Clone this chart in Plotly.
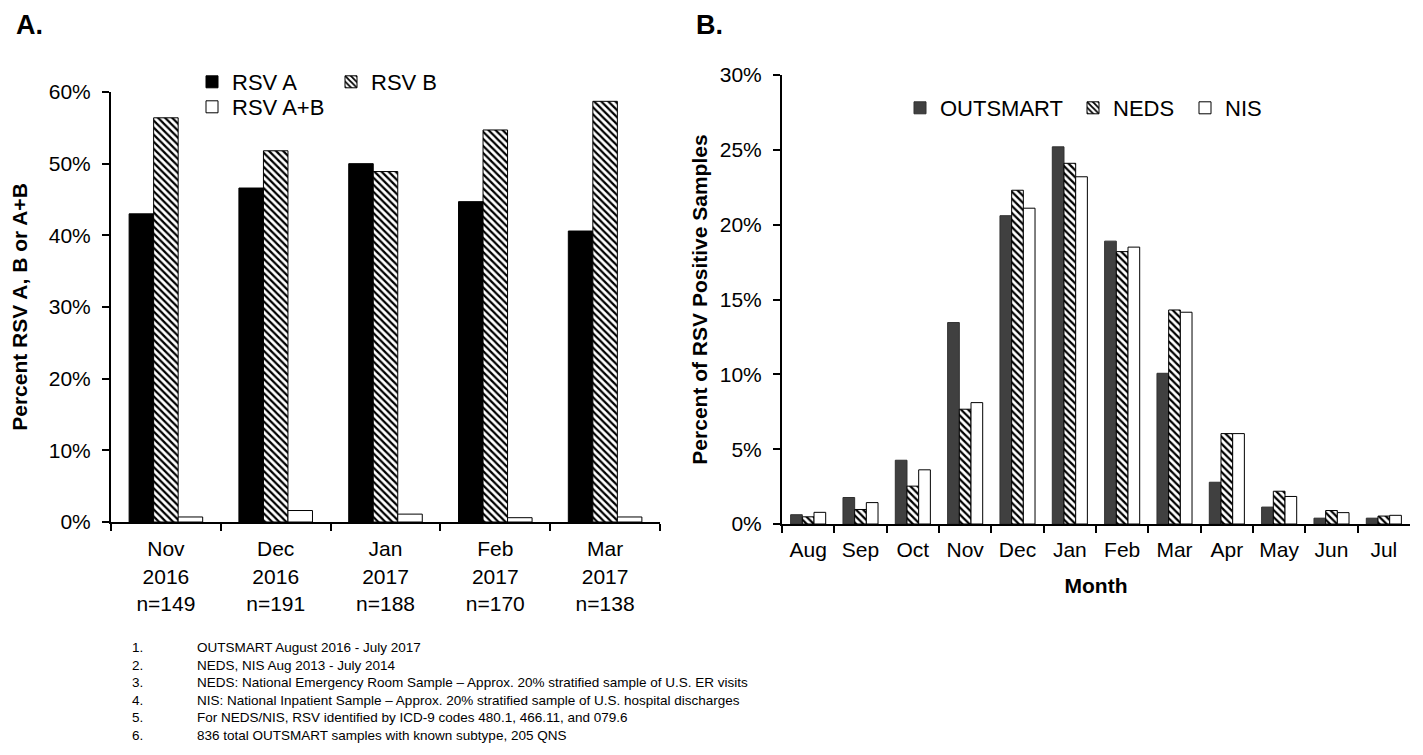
import plotly.graph_objects as go

# ---------------- data ----------------
a_months = ["Nov", "Dec", "Jan", "Feb", "Mar"]
a_years = ["2016", "2016", "2017", "2017", "2017"]
a_counts = [149, 191, 188, 170, 138]
rsv_a = [43.0, 46.6, 50.0, 44.7, 40.6]
rsv_b = [56.4, 51.8, 48.9, 54.7, 58.7]
rsv_ab = [0.7, 1.6, 1.1, 0.6, 0.7]

b_months = ["Aug", "Sep", "Oct", "Nov", "Dec", "Jan", "Feb", "Mar", "Apr", "May", "Jun", "Jul"]
outsmart = [0.62, 1.77, 4.26, 13.46, 20.6, 25.2, 18.9, 10.07, 2.79, 1.13, 0.39, 0.39]
neds = [0.48, 0.97, 2.53, 7.67, 22.3, 24.1, 18.2, 14.3, 6.04, 2.19, 0.90, 0.53]
nis = [0.78, 1.43, 3.62, 8.11, 21.1, 23.2, 18.5, 14.15, 6.04, 1.84, 0.76, 0.58]

a_ticks = [0, 10, 20, 30, 40, 50, 60]
b_ticks = [0, 5, 10, 15, 20, 25, 30]

footnote_nums = ["1.", "2.", "3.", "4.", "5.", "6."]
footnote_texts = [
    "OUTSMART August 2016 - July 2017",
    "NEDS, NIS Aug 2013 - July 2014",
    "NEDS: National Emergency Room Sample \u2013 Approx. 20% stratified sample of U.S. ER visits",
    "NIS: National Inpatient Sample \u2013 Approx. 20% stratified sample of U.S. hospital discharges",
    "For NEDS/NIS, RSV identified by ICD-9 codes 480.1, 466.11, and 079.6",
    "836 total OUTSMART samples with known subtype, 205 QNS",
]

# ---------------- layout helpers ----------------
PAGE_W, PAGE_H = 1423, 755
OFF = 8  # default page body margin
W, H = PAGE_W - OFF, PAGE_H - OFF
FONT = "Liberation Sans, Arial, sans-serif"


def px(x):
    return (x - OFF) / W


def py(y):
    return 1 - (y - OFF) / H


a_labels = [f"{m}<br>{y}<br>n={n}" for m, y, n in zip(a_months, a_years, a_counts)]

hatch = dict(shape="\\", fgcolor="black", bgcolor="white", size=5, solidity=0.45)
edge = dict(color="black", width=1)

fig = go.Figure()

# Panel A
fig.add_trace(go.Bar(x=a_labels, y=rsv_a, name="RSV A", xaxis="x", yaxis="y",
                     marker=dict(color="black", line=edge), legend="legend"))
fig.add_trace(go.Bar(x=a_labels, y=rsv_b, name="RSV B", xaxis="x", yaxis="y",
                     marker=dict(color="white", pattern=hatch, line=edge), legend="legend"))
fig.add_trace(go.Bar(x=a_labels, y=rsv_ab, name="RSV A+B", xaxis="x", yaxis="y",
                     marker=dict(color="white", line=edge), legend="legend2"))

# Panel B
fig.add_trace(go.Bar(x=b_months, y=outsmart, name="OUTSMART", xaxis="x2", yaxis="y2",
                     marker=dict(color="#404040", line=dict(color="#303030", width=1)), legend="legend3"))
fig.add_trace(go.Bar(x=b_months, y=neds, name="NEDS", xaxis="x2", yaxis="y2",
                     marker=dict(color="white", pattern=hatch, line=edge), legend="legend3"))
fig.add_trace(go.Bar(x=b_months, y=nis, name="NIS", xaxis="x2", yaxis="y2",
                     marker=dict(color="white", line=edge), legend="legend4"))

axis_common = dict(showgrid=False, zeroline=False, showline=True, linecolor="black", linewidth=2,
                   ticks="outside", ticklen=7, tickwidth=2, tickcolor="black", automargin=False,
                   tickfont=dict(family=FONT, size=21, color="black"))
inner_common = dict(showgrid=False, zeroline=False, showline=False, ticks="inside", ticklen=7,
                    tickwidth=2, tickcolor="black", showticklabels=False, automargin=False)
title_font = dict(family=FONT, size=21, color="black", weight="bold")
legend_font = dict(family=FONT, size=22, color="black")

n_a = len(a_months)
n_b = len(b_months)

fig.update_layout(
    template="none",
    width=W, height=H,
    margin=dict(l=0, r=0, t=0, b=0, pad=0, autoexpand=False),
    paper_bgcolor="white", plot_bgcolor="white",
    font=dict(family=FONT, color="black"),
    barmode="group", bargap=0.33, bargroupgap=0,
    showlegend=True, hovermode=False,
    xaxis=dict(axis_common, domain=[px(111), px(660)], anchor="y", type="category",
               tickson="boundaries", range=[-0.5, n_a - 0.5], ticklabelstandoff=7),
    yaxis=dict(axis_common, domain=[py(522), py(92)], anchor="x", range=[0, 60],
               tickmode="array", tickvals=a_ticks, ticktext=[f"{v}%" for v in a_ticks],
               ticklabelstandoff=7,
               title=dict(text="Percent RSV A, B or A+B", font=title_font, standoff=16)),
    xaxis3=dict(inner_common, overlaying="x", anchor="y", range=[-0.5, n_a - 0.5],
                tickmode="array", tickvals=[i - 0.5 for i in range(n_a + 1)]),
    yaxis3=dict(inner_common, overlaying="y", anchor="x", range=[0, 60],
                tickmode="array", tickvals=a_ticks),
    xaxis2=dict(axis_common, domain=[px(782), px(1410)], anchor="y2", type="category",
                tickson="boundaries", range=[-0.5, n_b - 0.5], ticklabelstandoff=6,
                title=dict(text="Month", font=title_font, standoff=18)),
    yaxis2=dict(axis_common, domain=[py(524), py(75)], anchor="x2", range=[0, 30],
                tickmode="array", tickvals=b_ticks, ticktext=[f"{v}%" for v in b_ticks],
                ticklabelstandoff=7,
                title=dict(text="Percent of RSV Positive Samples", font=title_font, standoff=6)),
    xaxis4=dict(inner_common, overlaying="x2", anchor="y2", range=[-0.5, n_b - 0.5],
                tickmode="array", tickvals=[i - 0.5 for i in range(n_b + 1)]),
    yaxis4=dict(inner_common, overlaying="y2", anchor="x2", range=[0, 30],
                tickmode="array", tickvals=b_ticks),
    legend=dict(orientation="h", x=px(192), y=py(82), xanchor="left", yanchor="middle",
                font=legend_font, bgcolor="rgba(0,0,0,0)",
                entrywidth=94, entrywidthmode="pixels", traceorder="normal"),
    legend2=dict(orientation="h", x=px(192), y=py(107), xanchor="left", yanchor="middle",
                 font=legend_font, bgcolor="rgba(0,0,0,0)"),
    legend3=dict(orientation="h", x=px(900), y=py(108), xanchor="left", yanchor="middle",
                 font=legend_font, bgcolor="rgba(0,0,0,0)",
                 entrywidth=128, entrywidthmode="pixels", traceorder="normal"),
    legend4=dict(orientation="h", x=px(1185), y=py(108), xanchor="left", yanchor="middle",
                 font=legend_font, bgcolor="rgba(0,0,0,0)"),
)

annotations = [
    dict(text="<b>A.</b>", x=px(14), y=py(OFF), xref="paper", yref="paper", xanchor="left",
         yanchor="top", showarrow=False, font=dict(family=FONT, size=27, color="black")),
    dict(text="<b>B.</b>", x=px(694), y=py(OFF), xref="paper", yref="paper", xanchor="left",
         yanchor="top", showarrow=False, font=dict(family=FONT, size=27, color="black")),
    dict(text="<br>".join(footnote_nums), x=px(130), y=py(638), xref="paper", yref="paper",
         xanchor="left", yanchor="top", align="left", showarrow=False,
         font=dict(family=FONT, size=13.5, color="black")),
    dict(text="<br>".join(footnote_texts), x=px(195), y=py(638), xref="paper", yref="paper",
         xanchor="left", yanchor="top", align="left", showarrow=False,
         font=dict(family=FONT, size=13.5, color="black")),
]
fig.update_layout(annotations=annotations)

fig.write_html("out.html")
